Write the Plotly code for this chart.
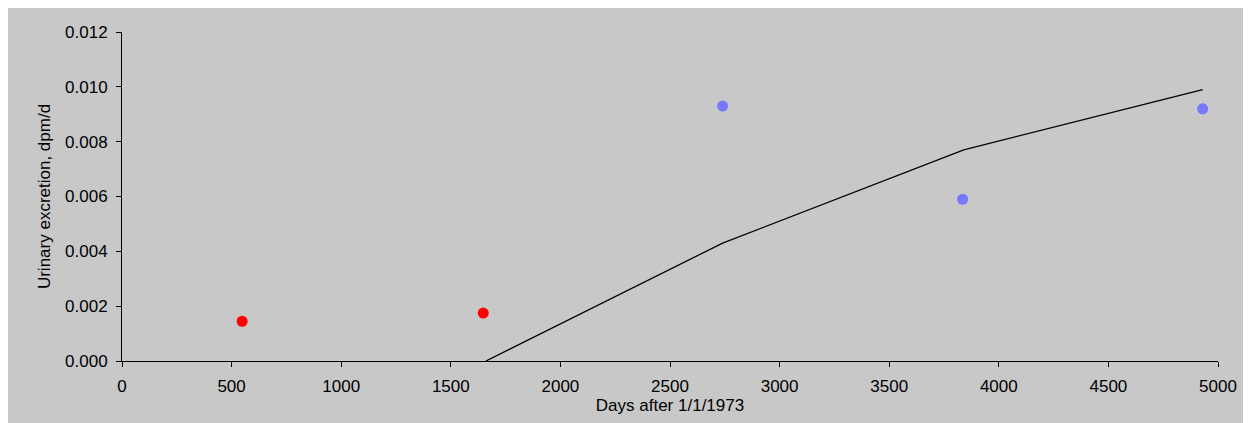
import plotly.graph_objects as go

# measured points
red_days = [548, 1648]
red_vals = [0.00145, 0.00175]
blue_days = [2740, 3835, 4930]
blue_vals = [0.0093, 0.0059, 0.0092]

# model curve
line_days = [1660, 2740, 3840, 4930]
line_vals = [0.0, 0.0043, 0.0077, 0.0099]

fig = go.Figure()
fig.add_trace(go.Scatter(x=line_days, y=line_vals, mode='lines',
                         line=dict(color='black', width=1.3), showlegend=False))
fig.add_trace(go.Scatter(x=red_days, y=red_vals, mode='markers',
                         marker=dict(color='#ff0000', size=11, line=dict(width=0)),
                         showlegend=False))
fig.add_trace(go.Scatter(x=blue_days, y=blue_vals, mode='markers',
                         marker=dict(color='#7878ff', size=11, line=dict(width=0)),
                         showlegend=False))

font = dict(family='Liberation Sans, Arial', size=17, color='black')
axis_style = dict(showline=True, linecolor='black', linewidth=1, ticks='outside',
                  ticklen=5, tickcolor='black', showgrid=False, zeroline=False,
                  tickfont=font, automargin=False, ticklabelstandoff=5)

fig.update_layout(
    width=1251, height=423,
    paper_bgcolor='#c8c8c8', plot_bgcolor='#c8c8c8',
    margin=dict(l=114, r=41, t=24, b=70),
    xaxis=dict(range=[0, 5000], dtick=500,
               title=dict(text='Days after 1/1/1973', standoff=2, font=font), **axis_style),
    yaxis=dict(range=[0, 0.012], dtick=0.002, tickformat='.3f',
               title=dict(text='Urinary excretion, dpm/d', standoff=10, font=font),
               **axis_style),
)

fig.write_html("out.html")
